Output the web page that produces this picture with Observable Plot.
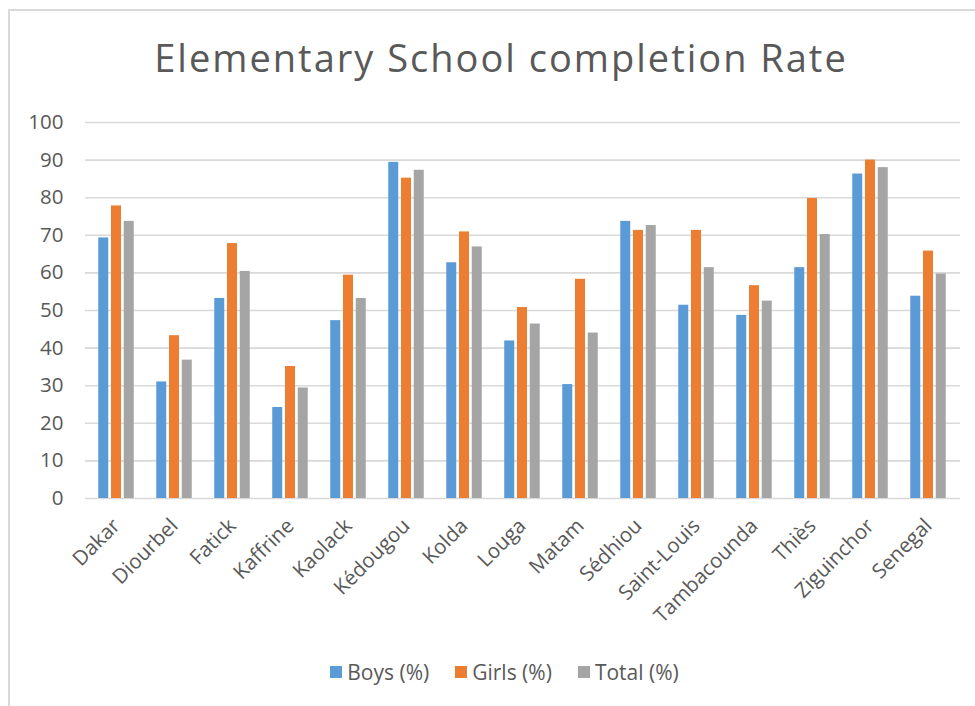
<!DOCTYPE html>
<html>
<head>
<meta charset="utf-8">
<script src="https://cdn.jsdelivr.net/npm/d3@7"></script>
<script src="https://cdn.jsdelivr.net/npm/@observablehq/plot@0.6"></script>
<style>
  html, body { margin: 0; padding: 0; background: #fff; }
  body { font-family: "Open Sans", sans-serif; color: #595959; }
  #frame { position: relative; width: 975px; height: 706px; overflow: hidden; background: #fff; }
  #border { position: absolute; left: 8px; top: 9px; width: 1100px; height: 1100px;
            border-left: 2px solid #d9d9d9; border-top: 2px solid #d9d9d9; }
  #title { position: absolute; left: 0; width: 1002px; top: 38px; text-align: center;
           font-size: 38px; line-height: 1; letter-spacing: 2px; color: #595959; white-space: nowrap; }
  #chart { position: absolute; left: 0; top: 100px; }
  #legend { position: absolute; left: 0; width: 975px; top: 660px; display: flex;
            justify-content: center; align-items: center; gap: 26px; font-size: 21px;
            line-height: 24px; color: #595959; padding-left: 34px; box-sizing: border-box; }
  .item { display: flex; align-items: center; gap: 5px; }
  .sw { width: 12px; height: 12px; display: inline-block; }
</style>
</head>
<body>
<div id="frame">
  <div id="border"></div>
  <div id="title">Elementary School completion Rate</div>
  <div id="chart"></div>
  <div id="legend"></div>
</div>
<script>
const regions = ["Dakar", "Diourbel", "Fatick", "Kaffrine", "Kaolack", "Kédougou", "Kolda", "Louga",
  "Matam", "Sédhiou", "Saint-Louis", "Tambacounda", "Thiès", "Ziguinchor", "Senegal"];
const series = ["Boys (%)", "Girls (%)", "Total (%)"];
const boys  = [69.3, 31.0, 53.2, 24.2, 47.3, 89.4, 62.7, 41.9, 30.3, 73.7, 51.4, 48.7, 61.4, 86.3, 53.8];
const girls = [77.8, 43.3, 67.8, 35.1, 59.4, 85.2, 70.9, 50.8, 58.3, 71.3, 71.3, 56.6, 79.8, 90.0, 65.8];
const total = [73.7, 36.8, 60.4, 29.4, 53.2, 87.3, 66.9, 46.4, 44.0, 72.6, 61.4, 52.5, 70.2, 88.0, 59.7];
const yTicks = [0, 10, 20, 30, 40, 50, 60, 70, 80, 90, 100];
const colors = ["#5b9bd5", "#ed7d31", "#a5a5a5"];

const values = [boys, girls, total];
const rows = [];
series.forEach((s, i) => regions.forEach((r, j) => rows.push({region: r, series: s, value: values[i][j]})));

const barStep = 12.75;
const marks = [
  Plot.gridY(yTicks, {stroke: "#d9d9d9", strokeOpacity: 1, strokeWidth: 1.6}),
  ...series.map((s, i) => Plot.barY(rows.filter(d => d.series === s), {
    x: "region", y: "value", fill: "series", dx: (i - 1) * barStep
  })),
  Plot.axisY(yTicks, {tickSize: 0, tickPadding: 22, fontSize: 20.5, label: null}),
  Plot.axisX({tickRotate: -45, tickSize: 0, tickPadding: 24, fontSize: 20.5, label: null})
];

const chart = Plot.plot({
  width: 975,
  height: 538,
  marginTop: 22,
  marginLeft: 85,
  marginRight: 15,
  marginBottom: 140,
  style: {fontFamily: "'Open Sans', sans-serif", color: "#595959", background: "transparent", overflow: "visible"},
  x: {domain: regions, paddingInner: 0.825, paddingOuter: 0.4125, label: null},
  y: {domain: [0, 100], label: null},
  color: {domain: series, range: colors},
  marks
});
document.getElementById("chart").appendChild(chart);

const legend = document.getElementById("legend");
series.forEach((s, i) => {
  const it = document.createElement("div");
  it.className = "item";
  const sw = document.createElement("span");
  sw.className = "sw";
  sw.style.background = colors[i];
  const t = document.createElement("span");
  t.textContent = s;
  it.appendChild(sw); it.appendChild(t);
  legend.appendChild(it);
});
</script>
</body>
</html>
